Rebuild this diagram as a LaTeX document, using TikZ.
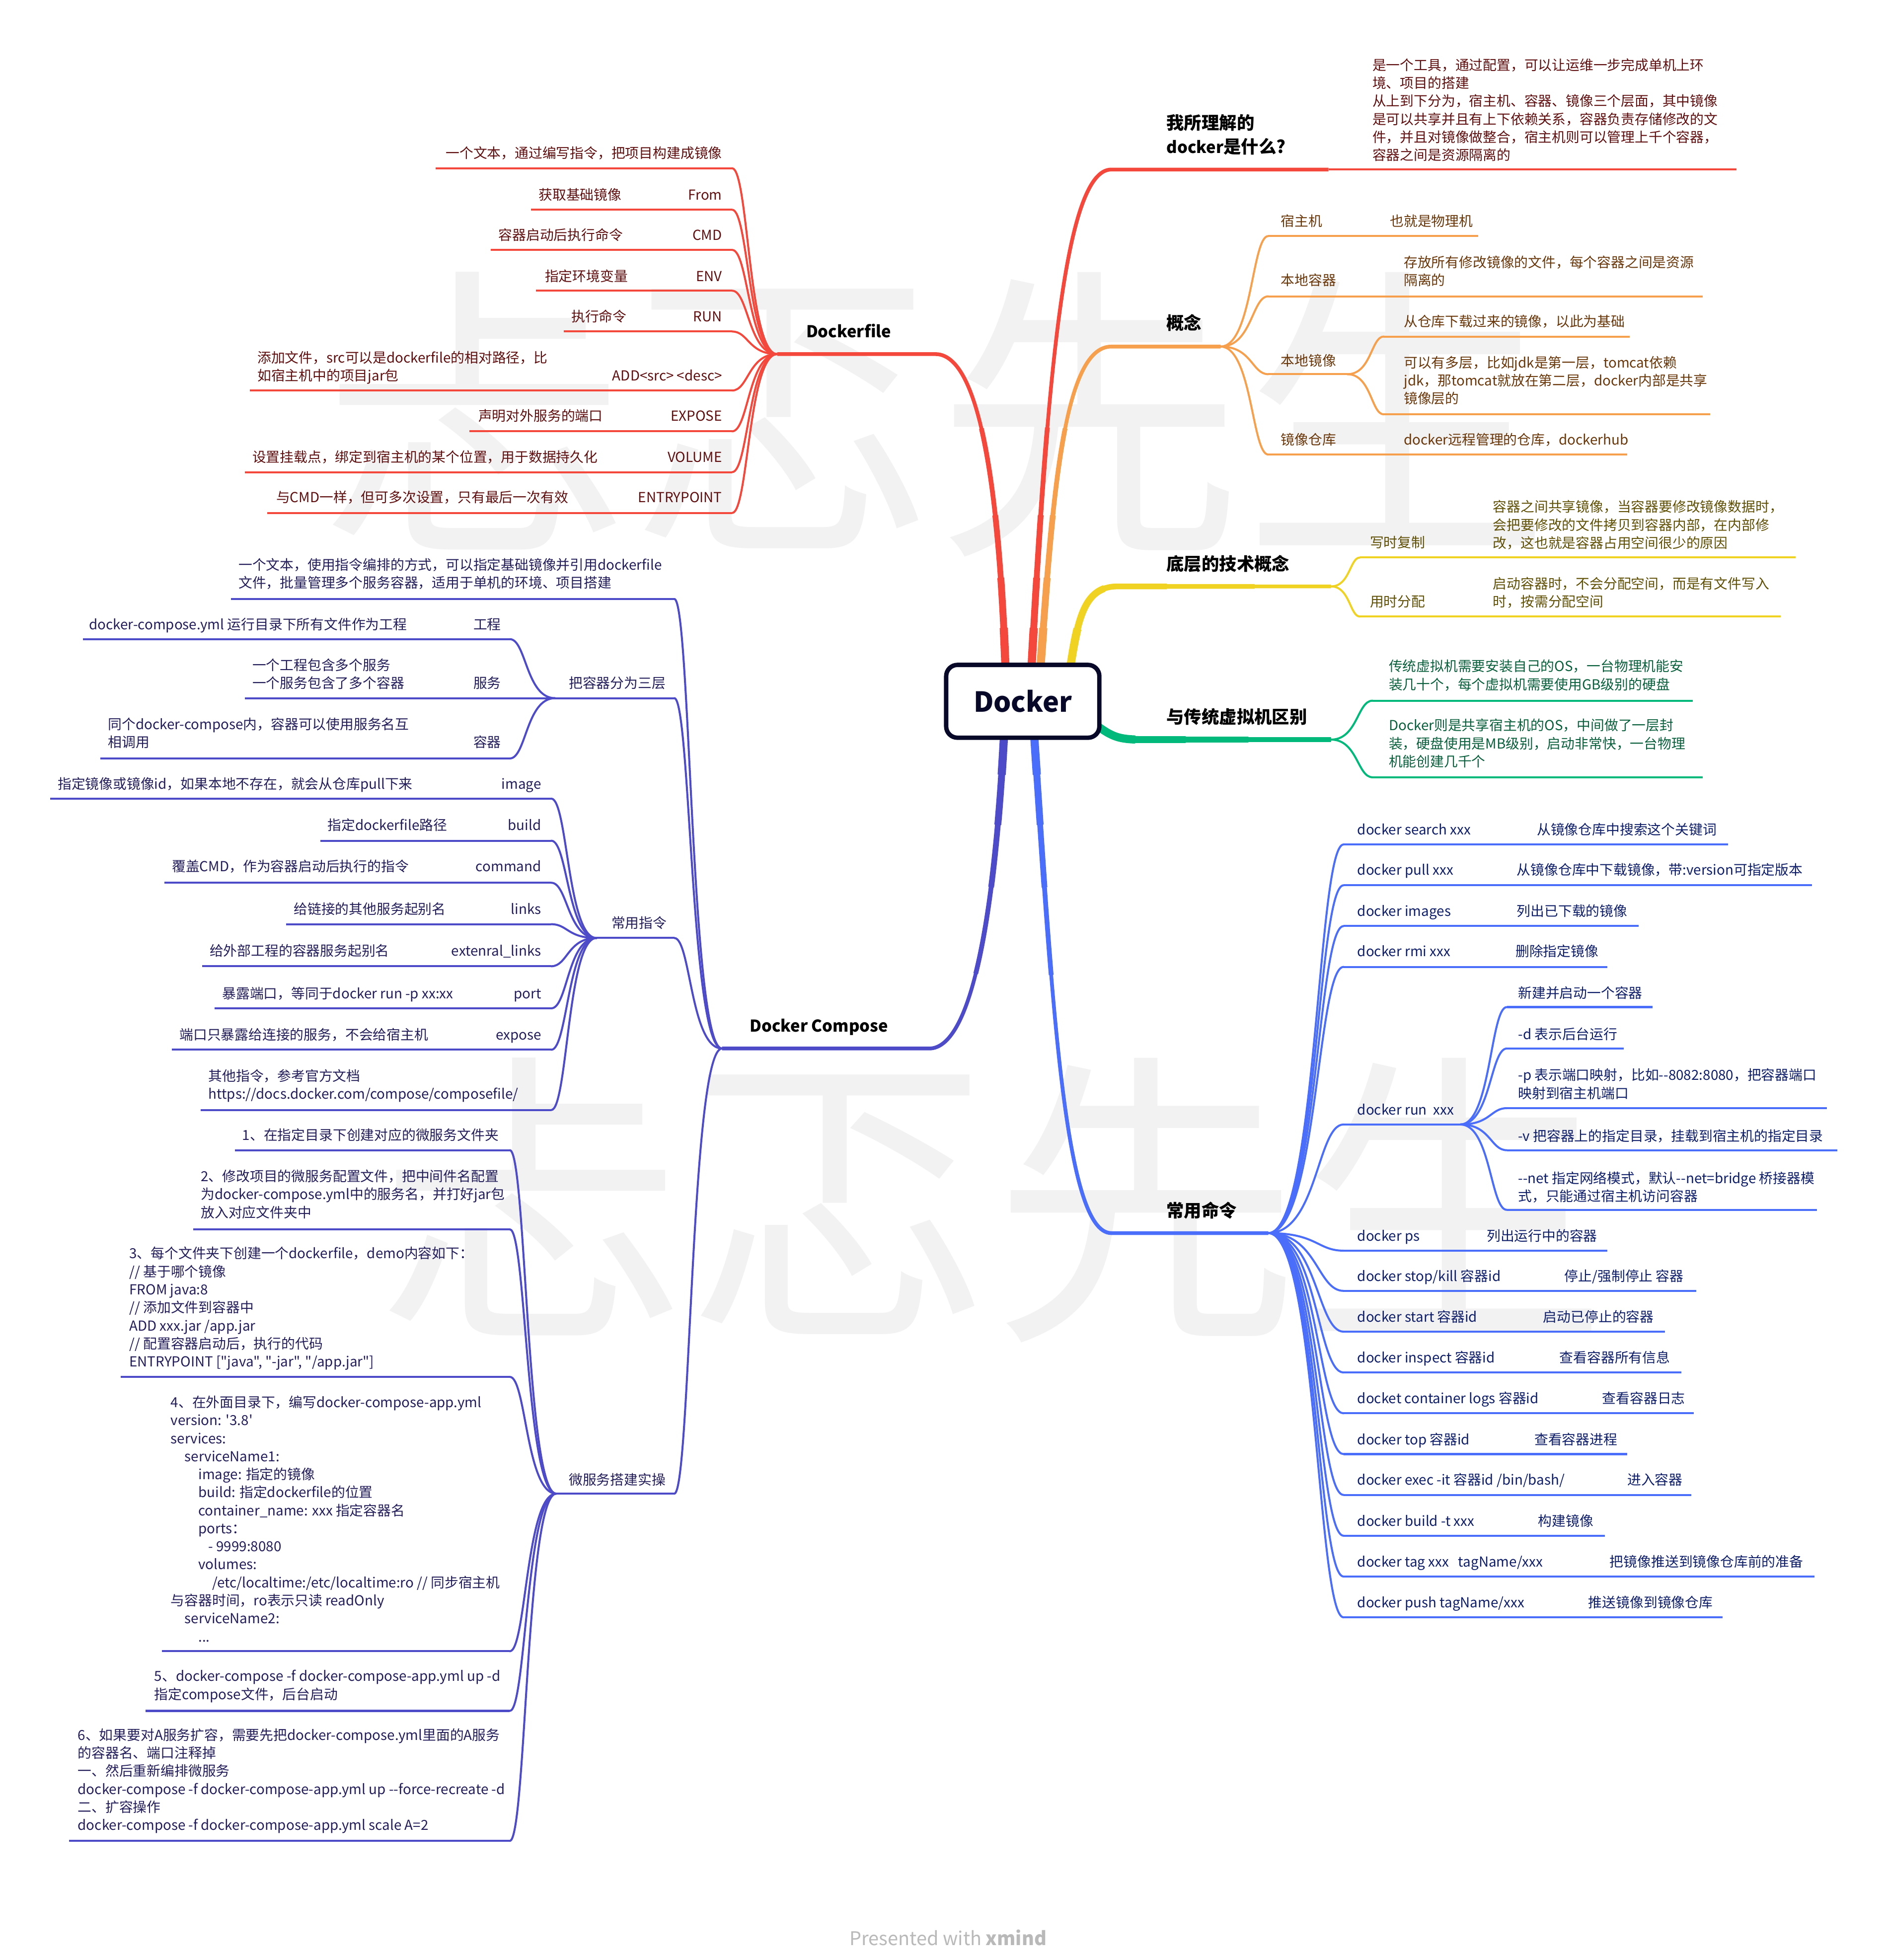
\documentclass[tikz,border=0pt]{standalone}
\usepackage{fontspec}
\setmainfont{Noto Sans CJK SC}[Ligatures=TeXOff]
\usetikzlibrary{calc}
\definecolor{cRed}{RGB}{245,72,60}
\definecolor{cOrg}{RGB}{246,160,77}
\definecolor{cYel}{RGB}{240,210,35}
\definecolor{cGrn}{RGB}{0,185,122}
\definecolor{cBlu}{RGB}{75,110,250}
\definecolor{cPur}{RGB}{78,75,200}
\definecolor{tRed}{RGB}{95,15,15}
\definecolor{tOrg}{RGB}{105,55,10}
\definecolor{tYel}{RGB}{95,80,5}
\definecolor{tGrn}{RGB}{10,95,60}
\definecolor{tBlu}{RGB}{15,30,105}
\definecolor{tPur}{RGB}{35,30,90}
\definecolor{wmk}{RGB}{242,242,242}
\definecolor{navy}{RGB}{8,8,40}
\definecolor{foot}{RGB}{185,185,185}
\pgfdeclarelayer{wmlayer}
\pgfdeclarelayer{bglayer}
\pgfsetlayers{wmlayer,bglayer,main}
\newcommand\mystrut{\rule{0pt}{0.88em}}
\newcommand\mainbr[2]{%
  \draw[#1,line width=3pt] #2;
  \draw[#1,line width=3.8pt,dash pattern=on 200pt off 4000pt] #2;
  \draw[#1,line width=4.6pt,dash pattern=on 130pt off 4000pt] #2;
  \draw[#1,line width=5.5pt,dash pattern=on 80pt off 4000pt] #2;
  \draw[#1,line width=6.5pt,dash pattern=on 40pt off 4000pt] #2;}
\tikzset{
  tx/.style={anchor=north west,inner sep=0pt,outer sep=0pt,align=left,
     font=\fontsize{11}{14.35}\selectfont,execute at begin node=\mystrut},
  txr/.style={tx,anchor=north east,align=right},
  topic/.style={anchor=north west,inner sep=0pt,outer sep=0pt,align=left,
     font=\bfseries\fontsize{14}{19}\selectfont,execute at begin node=\mystrut,text=black},
  ul/.style={line width=1.6pt},
  kn/.style={line width=1.6pt,line cap=round},
  kidr/.style 2 args={to path={.. controls +(#1,0) and +(-#2,0) .. (\tikztotarget)}},
  kidl/.style 2 args={to path={.. controls +(-#1,0) and +(#2,0) .. (\tikztotarget)}},
}
\begin{document}
\begin{tikzpicture}[x=1pt,y=-1pt]
\useasboundingbox (0,0) rectangle (1500,1560.9);
\begin{pgfonlayer}{wmlayer}
\fill[white] (0,0) rectangle (1500,1560.9);
\node[inner sep=0pt,text=wmk,font=\fontsize{245}{245}\selectfont] (wm1) at (745,330) {忐忑先生};
\node[inner sep=0pt,text=wmk,font=\fontsize{245}{245}\selectfont] (wm2) at (790,956) {忐忑先生};
\end{pgfonlayer}

% central node
\node[draw=navy,line width=3.5pt,rounded corners=9pt,fill=white,minimum width=122pt,minimum height=58pt,inner sep=0pt,font=\bfseries\fontsize{22}{26}\selectfont,text=navy] (docker) at (814.5,558.5) {Docker};

\coordinate (sDF) at (801,540);
\coordinate (sWH) at (821,540);
\coordinate (sGN) at (828,540);
\coordinate (sDC) at (851,540);
\coordinate (sVM) at (868,574);
\coordinate (sDP) at (800,577);
\coordinate (sCM) at (823,577);
\coordinate (dfJ) at (619,282);
\coordinate (whJ) at (1058,135);
\coordinate (gnJ) at (972,276);
\coordinate (dcJ) at (1060,467);
\coordinate (vmJ) at (1060,589);
\coordinate (dpJ) at (575,835);
\coordinate (cmJ) at (1010,982);

\begin{pgfonlayer}{bglayer}
\mainbr{cRed}{(sDF) .. controls (797,420) and (785,282) .. (745,282) -- (dfJ)}
\mainbr{cRed}{(sWH) .. controls (834,300) and (848,135) .. (885,135) -- (whJ)}
\mainbr{cOrg}{(sGN) .. controls (838,400) and (846,276) .. (885,276) -- (gnJ)}
\mainbr{cYel}{(sDC) .. controls (858,495) and (862,467) .. (890,467) -- (dcJ)}
\mainbr{cGrn}{(sVM) .. controls (885,586) and (888,589) .. (910,589) -- (vmJ)}
\mainbr{cPur}{(sDP) .. controls (792,740) and (772,835) .. (740,835) -- (dpJ)}
\mainbr{cBlu}{(sCM) .. controls (838,800) and (848,982) .. (885,982) -- (cmJ)}
\end{pgfonlayer}

% main topics
\node[topic,font=\bfseries\fontsize{13}{19}\selectfont] (tDF) at (642,257.5) {Dockerfile};
\node[topic] (tWH) at (929,91) {我所理解的\\{\fontsize{13}{19}\selectfont docker}是什么?};
\node[topic] (tGN) at (929,250) {概念};
\node[topic] (tDC) at (929,442) {底层的技术概念};
\node[topic] (tVM) at (929,564) {与传统虚拟机区别};
\node[topic,font=\bfseries\fontsize{13}{19}\selectfont] (tDP) at (597,810.5) {Docker Compose};
\node[topic] (tCM) at (929,957) {常用命令};

% ===== 我所理解 =====
\node[tx,text=tRed] (wh1) at (1093,46.5) {是一个工具，通过配置，可以让运维一步完成单机上环\\境、项目的搭建\\从上到下分为，宿主机、容器、镜像三个层面，其中镜像\\是可以共享并且有上下依赖关系，容器负责存储修改的文\\件，并且对镜像做整合，宿主机则可以管理上千个容器，\\容器之间是资源隔离的};
\draw[ul,cRed] (whJ) -- (1383,135) coordinate (wh1e);

% ===== 概念 =====
\node[tx,text=tOrg] (g1) at (1020,170.5) {宿主机};
\node[tx,text=tOrg] (g1d) at (1107,170.5) {也就是物理机};
\draw[ul,cOrg] (1010,188) coordinate (g1c) -- (1177,188);
\draw[kn,cOrg] (gnJ) to[kidr={25}{13}] (g1c);
\node[tx,text=tOrg] (g2) at (1020,217.5) {本地容器};
\node[tx,text=tOrg] (g2d) at (1118,203.5) {存放所有修改镜像的文件，每个容器之间是资源\\隔离的};
\draw[ul,cOrg] (1010,236) coordinate (g2c) -- (1356,236);
\draw[kn,cOrg] (gnJ) to[kidr={25}{13}] (g2c);
\node[tx,text=tOrg] (g3) at (1020,281.5) {本地镜像};
\draw[ul,cOrg] (1010,298) coordinate (g3c) -- (1073,298) coordinate (g3J);
\draw[kn,cOrg] (gnJ) to[kidr={25}{13}] (g3c);
\node[tx,text=tOrg] (g3a) at (1118,250.5) {从仓库下载过来的镜像，以此为基础};
\draw[ul,cOrg] (1102,268) coordinate (g3ac) -- (1298,268);
\draw[kn,cOrg] (g3J) to[kidr={19}{10}] (g3ac);
\node[tx,text=tOrg] (g3b) at (1118,283.5) {可以有多层，比如jdk是第一层，tomcat依赖\\jdk，那tomcat就放在第二层，docker内部是共享\\镜像层的};
\draw[ul,cOrg] (1102,330) coordinate (g3bc) -- (1362,330);
\draw[kn,cOrg] (g3J) to[kidr={19}{10}] (g3bc);
\node[tx,text=tOrg] (g4) at (1020,344.5) {镜像仓库};
\node[tx,text=tOrg] (g4d) at (1118,344.5) {docker远程管理的仓库，dockerhub};
\draw[ul,cOrg] (1010,362) coordinate (g4c) -- (1296,362);
\draw[kn,cOrg] (gnJ) to[kidr={25}{13}] (g4c);

% ===== 底层的技术概念 =====
\node[tx,text=tYel] (d1) at (1091,426.5) {写时复制};
\node[tx,text=tYel] (d1d) at (1189,398.5) {容器之间共享镜像，当容器要修改镜像数据时，\\会把要修改的文件拷贝到容器内部，在内部修\\改，这也就是容器占用空间很少的原因};
\draw[ul,cYel] (1083,444) coordinate (d1c) -- (1430,444);
\draw[kn,cYel] (dcJ) to[kidr={15}{8}] (d1c);
\node[tx,text=tYel] (d2) at (1091,473.5) {用时分配};
\node[tx,text=tYel] (d2d) at (1189,459.5) {启动容器时，不会分配空间，而是有文件写入\\时，按需分配空间};
\draw[ul,cYel] (1083,491) coordinate (d2c) -- (1418,491);
\draw[kn,cYel] (dcJ) to[kidr={15}{8}] (d2c);

% ===== 与传统虚拟机区别 =====
\node[tx,text=tGrn] (v1) at (1106,525.5) {传统虚拟机需要安装自己的OS，一台物理机能安\\装几十个，每个虚拟机需要使用GB级别的硬盘};
\draw[ul,cGrn] (1093,558) coordinate (v1c) -- (1348,558);
\draw[kn,cGrn] (vmJ) to[kidr={21}{12}] (v1c);
\node[tx,text=tGrn] (v2) at (1106,572.5) {Docker则是共享宿主机的OS，中间做了一层封\\装，硬盘使用是MB级别，启动非常快，一台物理\\机能创建几千个};
\draw[ul,cGrn] (1093,619) coordinate (v2c) -- (1356,619);
\draw[kn,cGrn] (vmJ) to[kidr={21}{12}] (v2c);

% ===== 常用命令 =====
\node[tx,text=tBlu] (m1) at (1081,655) {docker search xxx};
\node[tx,text=tBlu] (m1d) at (1224,655) {从镜像仓库中搜索这个关键词};
\draw[ul,cBlu] (1070,672.5) coordinate (m1c) -- (1376,672.5);
\draw[kn,cBlu] (cmJ) to[kidr={39}{21}] (m1c);
\node[tx,text=tBlu] (m2) at (1081,687) {docker pull xxx};
\node[tx,text=tBlu] (m2d) at (1208,687) {从镜像仓库中下载镜像，带:version可指定版本};
\draw[ul,cBlu] (1070,705) coordinate (m2c) -- (1443,705);
\draw[kn,cBlu] (cmJ) to[kidr={39}{21}] (m2c);
\node[tx,text=tBlu] (m3) at (1081,720) {docker images};
\node[tx,text=tBlu] (m3d) at (1208,720) {列出已下载的镜像};
\draw[ul,cBlu] (1070,737.5) coordinate (m3c) -- (1305,737.5);
\draw[kn,cBlu] (cmJ) to[kidr={39}{21}] (m3c);
\node[tx,text=tBlu] (m4) at (1081,752) {docker rmi xxx};
\node[tx,text=tBlu] (m4d) at (1207,752) {删除指定镜像};
\draw[ul,cBlu] (1070,770) coordinate (m4c) -- (1280,770);
\draw[kn,cBlu] (cmJ) to[kidr={39}{21}] (m4c);
\node[tx,text=tBlu] (m5) at (1081,878) {docker run\ \ xxx};
\draw[ul,cBlu] (1070,895.5) coordinate (m5c) -- (1163,895.5) coordinate (runJ);
\draw[kn,cBlu] (cmJ) to[kidr={39}{21}] (m5c);
\node[tx,text=tBlu] (r1) at (1209,785) {新建并启动一个容器};
\draw[ul,cBlu] (1200,802) coordinate (r1c) -- (1316,802);
\draw[kn,cBlu] (runJ) to[kidr={24}{13}] (r1c);
\node[tx,text=tBlu] (r2) at (1209,818) {-d 表示后台运行};
\draw[ul,cBlu] (1200,835) coordinate (r2c) -- (1293,835);
\draw[kn,cBlu] (runJ) to[kidr={24}{13}] (r2c);
\node[tx,text=tBlu] (r3) at (1209,851) {-p 表示端口映射，比如-{}-8082:8080，把容器端口\\映射到宿主机端口};
\draw[ul,cBlu] (1200,882.5) coordinate (r3c) -- (1455,882.5);
\draw[kn,cBlu] (runJ) to[kidr={24}{13}] (r3c);
\node[tx,text=tBlu] (r4) at (1209,899) {-v 把容器上的指定目录，挂载到宿主机的指定目录};
\draw[ul,cBlu] (1200,916) coordinate (r4c) -- (1463,916);
\draw[kn,cBlu] (runJ) to[kidr={24}{13}] (r4c);
\node[tx,text=tBlu] (r5) at (1209,933) {-{}-net 指定网络模式，默认-{}-net=bridge 桥接器模\\式，只能通过宿主机访问容器};
\draw[ul,cBlu] (1200,963.5) coordinate (r5c) -- (1447,963.5);
\draw[kn,cBlu] (runJ) to[kidr={24}{13}] (r5c);
\node[tx,text=tBlu] (m6) at (1081,978.5) {docker ps};
\node[tx,text=tBlu] (m6d) at (1184,978.5) {列出运行中的容器};
\draw[ul,cBlu] (1070,996) coordinate (m6c) -- (1280,996);
\draw[kn,cBlu] (cmJ) to[kidr={39}{21}] (m6c);
\node[tx,text=tBlu] (m7) at (1081,1010.5) {docker stop/kill 容器id};
\node[tx,text=tBlu] (m7d) at (1246,1010.5) {停止/强制停止 容器};
\draw[ul,cBlu] (1070,1028) coordinate (m7c) -- (1351,1028);
\draw[kn,cBlu] (cmJ) to[kidr={39}{21}] (m7c);
\node[tx,text=tBlu] (m8) at (1081,1043) {docker start 容器id};
\node[tx,text=tBlu] (m8d) at (1229,1043) {启动已停止的容器};
\draw[ul,cBlu] (1070,1060.5) coordinate (m8c) -- (1326,1060.5);
\draw[kn,cBlu] (cmJ) to[kidr={39}{21}] (m8c);
\node[tx,text=tBlu] (m9) at (1081,1075.5) {docker inspect 容器id};
\node[tx,text=tBlu] (m9d) at (1242,1075.5) {查看容器所有信息};
\draw[ul,cBlu] (1070,1093) coordinate (m9c) -- (1339,1093);
\draw[kn,cBlu] (cmJ) to[kidr={39}{21}] (m9c);
\node[tx,text=tBlu] (m10) at (1081,1108) {docket container logs 容器id};
\node[tx,text=tBlu] (m10d) at (1276,1108) {查看容器日志};
\draw[ul,cBlu] (1070,1125.5) coordinate (m10c) -- (1349,1125.5);
\draw[kn,cBlu] (cmJ) to[kidr={39}{21}] (m10c);
\node[tx,text=tBlu] (m11) at (1081,1141) {docker top 容器id};
\node[tx,text=tBlu] (m11d) at (1222,1141) {查看容器进程};
\draw[ul,cBlu] (1070,1158) coordinate (m11c) -- (1296,1158);
\draw[kn,cBlu] (cmJ) to[kidr={39}{21}] (m11c);
\node[tx,text=tBlu] (m12) at (1081,1173) {docker exec -it 容器id /bin/bash/};
\node[tx,text=tBlu] (m12d) at (1296,1173) {进入容器};
\draw[ul,cBlu] (1070,1190.5) coordinate (m12c) -- (1347,1190.5);
\draw[kn,cBlu] (cmJ) to[kidr={39}{21}] (m12c);
\node[tx,text=tBlu] (m13) at (1081,1205.5) {docker build -t xxx};
\node[tx,text=tBlu] (m13d) at (1225,1205.5) {构建镜像};
\draw[ul,cBlu] (1070,1223) coordinate (m13c) -- (1278,1223);
\draw[kn,cBlu] (cmJ) to[kidr={39}{21}] (m13c);
\node[tx,text=tBlu] (m14) at (1081,1238) {docker tag xxx\ \ \ tagName/xxx};
\node[tx,text=tBlu] (m14d) at (1282,1238) {把镜像推送到镜像仓库前的准备};
\draw[ul,cBlu] (1070,1255.5) coordinate (m14c) -- (1445,1255.5);
\draw[kn,cBlu] (cmJ) to[kidr={39}{21}] (m14c);
\node[tx,text=tBlu] (m15) at (1081,1270.5) {docker push tagName/xxx};
\node[tx,text=tBlu] (m15d) at (1265,1270.5) {推送镜像到镜像仓库};
\draw[ul,cBlu] (1070,1288) coordinate (m15c) -- (1372,1288);
\draw[kn,cBlu] (cmJ) to[kidr={39}{21}] (m15c);

% ===== Dockerfile =====
\node[txr,text=tRed] (f0) at (575,116.5) {一个文本，通过编写指令，把项目构建成镜像};
\draw[ul,cRed] (347,134) -- (583,134) coordinate (f0c);
\draw[kn,cRed] (dfJ) to[kidl={23}{13}] (f0c);
\node[txr,text=tRed] (f1) at (575,149.5) {From};
\node[tx,text=tRed] (f1d) at (429,149.5) {获取基础镜像};
\draw[ul,cRed] (423,167) -- (583,167) coordinate (f1c);
\draw[kn,cRed] (dfJ) to[kidl={23}{13}] (f1c);
\node[txr,text=tRed] (f2) at (575,181.5) {CMD};
\node[tx,text=tRed] (f2d) at (397,181.5) {容器启动后执行命令};
\draw[ul,cRed] (391,199) -- (583,199) coordinate (f2c);
\draw[kn,cRed] (dfJ) to[kidl={23}{13}] (f2c);
\node[txr,text=tRed] (f3) at (575,214.5) {ENV};
\node[tx,text=tRed] (f3d) at (434,214.5) {指定环境变量};
\draw[ul,cRed] (427,231.5) -- (583,231.5) coordinate (f3c);
\draw[kn,cRed] (dfJ) to[kidl={23}{13}] (f3c);
\node[txr,text=tRed] (f4) at (575,246.5) {RUN};
\node[tx,text=tRed] (f4d) at (455,246.5) {执行命令};
\draw[ul,cRed] (449,264) -- (583,264) coordinate (f4c);
\draw[kn,cRed] (dfJ) to[kidl={23}{13}] (f4c);
\node[txr,text=tRed] (f5) at (575,293.5) {ADD<src> <desc>};
\node[tx,text=tRed] (f5d) at (205,279.5) {添加文件，src可以是dockerfile的相对路径，比\\如宿主机中的项目jar包};
\draw[ul,cRed] (199,311) -- (583,311) coordinate (f5c);
\draw[kn,cRed] (dfJ) to[kidl={23}{13}] (f5c);
\node[txr,text=tRed] (f6) at (575,325.5) {EXPOSE};
\node[tx,text=tRed] (f6d) at (381,325.5) {声明对外服务的端口};
\draw[ul,cRed] (374,343.5) -- (583,343.5) coordinate (f6c);
\draw[kn,cRed] (dfJ) to[kidl={23}{13}] (f6c);
\node[txr,text=tRed] (f7) at (575,358.5) {VOLUME};
\node[tx,text=tRed] (f7d) at (201,358.5) {设置挂载点，绑定到宿主机的某个位置，用于数据持久化};
\draw[ul,cRed] (195,376) -- (583,376) coordinate (f7c);
\draw[kn,cRed] (dfJ) to[kidl={23}{13}] (f7c);
\node[txr,text=tRed] (f8) at (575,390.5) {ENTRYPOINT};
\node[tx,text=tRed] (f8d) at (220,390.5) {与CMD一样，但可多次设置，只有最后一次有效};
\draw[ul,cRed] (213,408.5) -- (583,408.5) coordinate (f8c);
\draw[kn,cRed] (dfJ) to[kidl={23}{13}] (f8c);

% ===== Docker Compose =====
\node[tx,text=tPur] (p1) at (190,444.5) {一个文本，使用指令编排的方式，可以指定基础镜像并引用dockerfile\\文件，批量管理多个服务容器，适用于单机的环境、项目搭建};
\draw[ul,cPur] (184,477) -- (537,477) coordinate (p1c);
\draw[kn,cPur] (dpJ) to[kidl={25}{13}] (p1c);

\node[tx,text=tPur] (p2) at (453,538.5) {把容器分为三层};
\draw[ul,cPur] (442,556) coordinate (p2J) -- (537,556) coordinate (p2c);
\draw[kn,cPur] (dpJ) to[kidl={25}{13}] (p2c);
\node[tx,text=tPur] (p2ad) at (71,491.5) {docker-compose.yml 运行目录下所有文件作为工程};
\node[txr,text=tPur] (p2a) at (399,491.5) {工程};
\draw[ul,cPur] (66,509) -- (406,509) coordinate (p2ac);
\draw[kn,cPur] (p2J) to[kidl={23}{13}] (p2ac);
\node[tx,text=tPur] (p2bd) at (201,524.5) {一个工程包含多个服务\\一个服务包含了多个容器};
\node[txr,text=tPur] (p2b) at (399,538.5) {服务};
\draw[ul,cPur] (195,556) -- (406,556) coordinate (p2bc);
\draw[kn,cPur] (p2J) -- (p2bc);
\node[tx,text=tPur] (p2cd) at (86,571.5) {同个docker-compose内，容器可以使用服务名互\\相调用};
\node[txr,text=tPur] (p2c2) at (399,585.5) {容器};
\draw[ul,cPur] (80,604) -- (406,604) coordinate (p2cc);
\draw[kn,cPur] (p2J) to[kidl={23}{13}] (p2cc);

\node[tx,text=tPur] (p3) at (487,729.5) {常用指令};
\draw[ul,cPur] (475,747) coordinate (p3J) -- (537,747) coordinate (p3c);
\draw[kn,cPur] (dpJ) to[kidl={25}{13}] (p3c);
\node[tx,text=tPur] (k1d) at (46,618.5) {指定镜像或镜像id，如果本地不存在，就会从仓库pull下来};
\node[txr,text=tPur] (k1) at (431,618.5) {image};
\draw[ul,cPur] (40,636) -- (439,636) coordinate (k1c);
\draw[kn,cPur] (p3J) to[kidl={23}{13}] (k1c);
\node[tx,text=tPur] (k2d) at (261,651.5) {指定dockerfile路径};
\node[txr,text=tPur] (k2) at (431,651.5) {build};
\draw[ul,cPur] (255,669.5) -- (439,669.5) coordinate (k2c);
\draw[kn,cPur] (p3J) to[kidl={23}{13}] (k2c);
\node[tx,text=tPur] (k3d) at (137,684.5) {覆盖CMD，作为容器启动后执行的指令};
\node[txr,text=tPur] (k3) at (431,684.5) {command};
\draw[ul,cPur] (131,703) -- (439,703) coordinate (k3c);
\draw[kn,cPur] (p3J) to[kidl={23}{13}] (k3c);
\node[tx,text=tPur] (k4d) at (234,718.5) {给链接的其他服务起别名};
\node[txr,text=tPur] (k4) at (431,718.5) {links};
\draw[ul,cPur] (228,736) -- (439,736) coordinate (k4c);
\draw[kn,cPur] (p3J) to[kidl={23}{13}] (k4c);
\node[tx,text=tPur] (k5d) at (167,751.5) {给外部工程的容器服务起别名};
\node[txr,text=tPur] (k5) at (431,751.5) {extenral\_links};
\draw[ul,cPur] (161,769.5) -- (439,769.5) coordinate (k5c);
\draw[kn,cPur] (p3J) to[kidl={23}{13}] (k5c);
\node[tx,text=tPur] (k6d) at (177,785.5) {暴露端口，等同于docker run -p xx:xx};
\node[txr,text=tPur] (k6) at (431,785.5) {port};
\draw[ul,cPur] (171,803) -- (439,803) coordinate (k6c);
\draw[kn,cPur] (p3J) to[kidl={23}{13}] (k6c);
\node[tx,text=tPur] (k7d) at (143,818.5) {端口只暴露给连接的服务，不会给宿主机};
\node[txr,text=tPur] (k7) at (431,818.5) {expose};
\draw[ul,cPur] (137,836) -- (439,836) coordinate (k7c);
\draw[kn,cPur] (p3J) to[kidl={23}{13}] (k7c);
\node[tx,text=tPur] (k8) at (166,851.5) {其他指令，参考官方文档\\https://docs.docker.com/compose/composefile/};
\draw[ul,cPur] (160,884) -- (439,884) coordinate (k8c);
\draw[kn,cPur] (p3J) to[kidl={23}{13}] (k8c);

\node[tx,text=tPur] (p4) at (453,1173) {微服务搭建实操};
\draw[ul,cPur] (443,1189.5) coordinate (p4J) -- (537,1189.5) coordinate (p4c);
\draw[kn,cPur] (dpJ) to[kidl={25}{13}] (p4c);
\node[tx,text=tPur] (s1) at (193,898.5) {1、在指定目录下创建对应的微服务文件夹};
\draw[ul,cPur] (187,916) -- (406,916) coordinate (s1c);
\draw[kn,cPur] (p4J) to[kidl={24}{13}] (s1c);
\node[tx,text=tPur] (s2) at (160,931.5) {2、修改项目的微服务配置文件，把中间件名配置\\为docker-compose.yml中的服务名，并打好jar包\\放入对应文件夹中};
\draw[ul,cPur] (154,979) -- (406,979) coordinate (s2c);
\draw[kn,cPur] (p4J) to[kidl={24}{13}] (s2c);
\node[tx,text=tPur] (s3) at (103,993) {3、每个文件夹下创建一个dockerfile，demo内容如下：\\// 基于哪个镜像\\FROM java:8\\// 添加文件到容器中\\ADD xxx.jar /app.jar\\// 配置容器启动后，执行的代码\\ENTRYPOINT ["java", "-jar", "/app.jar"]};
\draw[ul,cPur] (96,1096.5) -- (406,1096.5) coordinate (s3c);
\draw[kn,cPur] (p4J) to[kidl={24}{13}] (s3c);
\node[tx,text=tPur] (s4) at (136,1111.5) {4、在外面目录下，编写docker-compose-app.yml\\version: '3.8'\\services:\\\hspace*{11pt}serviceName1:\\\hspace*{22pt}image: 指定的镜像\\\hspace*{22pt}build: 指定dockerfile的位置\\\hspace*{22pt}container\_name: xxx 指定容器名\\\hspace*{22pt}ports：\\\hspace*{30pt}- 9999:8080\\\hspace*{22pt}volumes:\\\hspace*{33pt}/etc/localtime:/etc/localtime:ro // 同步宿主机\\与容器时间，ro表示只读 readOnly\\\hspace*{11pt}serviceName2:\\\hspace*{22pt}...};
\draw[ul,cPur] (129,1315) -- (406,1315) coordinate (s4c);
\draw[kn,cPur] (p4J) to[kidl={24}{13}] (s4c);
\node[tx,text=tPur] (s5) at (123,1330) {5、docker-compose -f docker-compose-app.yml up -d\\指定compose文件，后台启动};
\draw[ul,cPur] (116,1362.5) -- (406,1362.5) coordinate (s5c);
\draw[kn,cPur] (p4J) to[kidl={24}{13}] (s5c);
\node[tx,text=tPur] (s6) at (62,1376.5) {6、如果要对A服务扩容，需要先把docker-compose.yml里面的A服务\\的容器名、端口注释掉\\一、然后重新编排微服务\\docker-compose -f docker-compose-app.yml up -{}-force-recreate -d\\二、扩容操作\\docker-compose -f docker-compose-app.yml scale A=2};
\draw[ul,cPur] (55,1466) -- (406,1466) coordinate (s6c);
\draw[kn,cPur] (p4J) to[kidl={24}{13}] (s6c);

% footer
\node[text=foot,font=\fontsize{15}{18}\selectfont,inner sep=0pt] (foot) at (755,1543) {Presented with \textbf{xmind}};
\end{tikzpicture}
\end{document}
